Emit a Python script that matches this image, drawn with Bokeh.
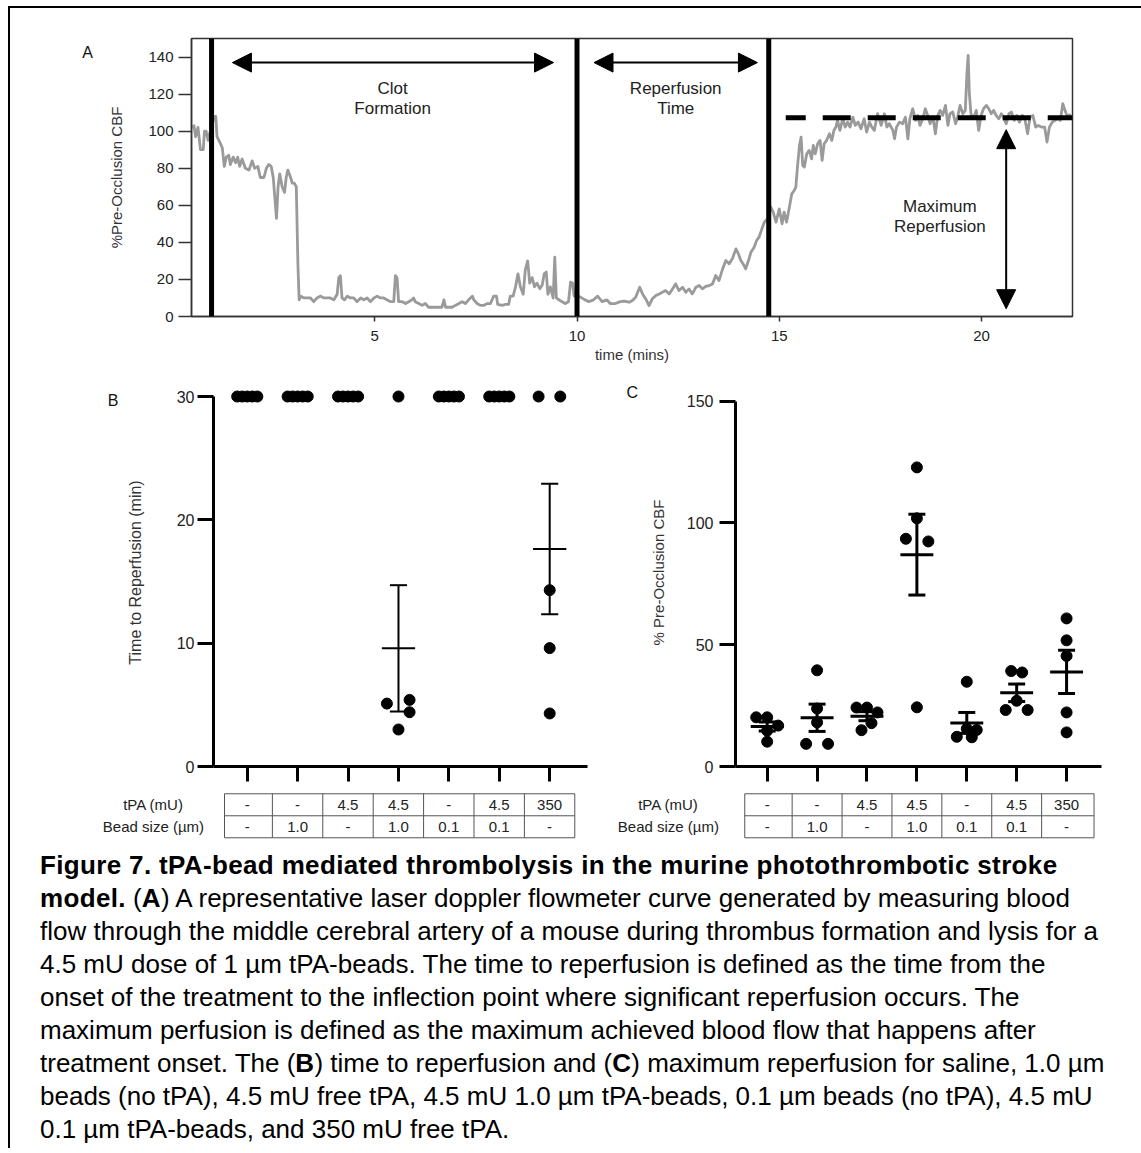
import numpy as np
from bokeh.plotting import figure
from bokeh.models import Range1d, FixedTicker, Span, Arrow, NormalHead, Label, Div
from bokeh.layouts import row, column
from bokeh.embed import file_html
from bokeh.resources import INLINE
from bokeh.core.properties import value

FONT = "Liberation Sans"

# ---------------- Panel A: laser doppler trace ----------------
trace_time = [
    0.47, 0.53, 0.57, 0.63, 0.69, 0.76, 0.79, 0.83, 0.88, 0.92, 0.96, 1.02, 1.07, 1.10, 1.17, 1.23, 1.28, 1.33, 1.39, 1.43,
    1.50, 1.56, 1.61, 1.66, 1.72, 1.80, 1.89, 1.97, 2.03, 2.11, 2.17, 2.26, 2.32, 2.38, 2.44, 2.49, 2.53, 2.57, 2.61, 2.65,
    2.71, 2.77, 2.81, 2.85, 2.92, 2.96, 3.01, 3.06, 3.10, 3.13, 3.16, 3.25, 3.33, 3.41, 3.49, 3.57, 3.66, 3.74, 3.82, 3.90,
    3.99, 4.07, 4.11, 4.15, 4.19, 4.25, 4.32, 4.40, 4.48, 4.56, 4.65, 4.73, 4.81, 4.89, 4.98, 5.06, 5.14, 5.22, 5.30, 5.39,
    5.47, 5.51, 5.55, 5.59, 5.68, 5.76, 5.84, 5.92, 5.96, 6.00, 6.09, 6.17, 6.25, 6.33, 6.42, 6.50, 6.58, 6.66, 6.71, 6.75,
    6.83, 6.91, 6.99, 7.08, 7.16, 7.24, 7.32, 7.41, 7.45, 7.53, 7.61, 7.69, 7.78, 7.86, 7.94, 8.01, 8.04, 8.15, 8.23, 8.31,
    8.35, 8.42, 8.48, 8.54, 8.60, 8.67, 8.72, 8.78, 8.83, 8.89, 8.95, 9.01, 9.08, 9.14, 9.19, 9.24, 9.28, 9.34, 9.41, 9.45,
    9.49, 9.55, 9.63, 9.71, 9.79, 9.84, 9.89, 9.93, 10.04, 10.16, 10.29, 10.41, 10.51, 10.62, 10.74, 10.82, 10.95, 11.07,
    11.16, 11.29, 11.37, 11.45, 11.55, 11.62, 11.70, 11.78, 11.86, 11.95, 12.03, 12.11, 12.19, 12.28, 12.36, 12.44, 12.52, 12.61, 12.69, 12.77,
    12.85, 12.94, 13.02, 13.10, 13.18, 13.27, 13.35, 13.43, 13.51, 13.60, 13.68, 13.76, 13.84, 13.93, 13.99, 14.05, 14.13, 14.17, 14.24, 14.30,
    14.38, 14.44, 14.50, 14.57, 14.63, 14.71, 14.79, 14.85, 14.92, 15.00, 15.07, 15.12, 15.18, 15.25, 15.31, 15.37, 15.41, 15.45, 15.50, 15.54,
    15.58, 15.62, 15.68, 15.74, 15.80, 15.84, 15.89, 15.95, 16.01, 16.06, 16.11, 16.17, 16.24, 16.30, 16.35, 16.40, 16.44, 16.50, 16.57, 16.63,
    16.69, 16.75, 16.82, 16.88, 16.95, 17.02, 17.10, 17.16, 17.23, 17.29, 17.35, 17.43, 17.52, 17.60, 17.66, 17.72, 17.81, 17.85, 17.90, 17.97,
    18.05, 18.12, 18.18, 18.23, 18.30, 18.37, 18.42, 18.48, 18.55, 18.61, 18.67, 18.73, 18.80, 18.86, 18.92, 18.98, 19.04, 19.11, 19.17, 19.22,
    19.29, 19.36, 19.41, 19.47, 19.54, 19.60, 19.64, 19.67, 19.70, 19.74, 19.80, 19.87, 19.93, 19.99, 20.05, 20.12, 20.18, 20.24, 20.30, 20.36,
    20.43, 20.49, 20.54, 20.61, 20.68, 20.74, 20.81, 20.87, 20.94, 21.01, 21.07, 21.14, 21.20, 21.27, 21.34, 21.40, 21.48, 21.56, 21.62, 21.68,
    21.75, 21.82, 21.89, 21.95, 22.01, 22.08, 22.14, 22.19,
]
trace_cbf = [
    102, 103, 97, 102, 90, 90, 100, 100, 95, 99, 100, 108, 108, 97, 94, 91, 81, 86, 87, 82,
    86, 83, 86, 81, 85, 80, 79, 84, 80, 81, 75, 75, 80, 82, 81, 75, 64, 53, 70, 77,
    70, 67, 75, 79, 75, 72, 72, 70, 28, 9, 11, 10, 10, 10, 8, 10, 11, 10, 10, 10,
    9, 12, 21, 22, 10, 9, 11, 10, 10, 8, 10, 9, 10, 8, 10, 11, 10, 10, 9, 8,
    8, 22, 21, 8, 8, 7, 8, 9, 10, 8, 7, 6, 7, 5, 5, 5, 5, 5, 9, 5,
    5, 5, 6, 7, 8, 7, 9, 11, 9, 7, 6, 6, 7, 7, 11, 11, 6.5, 6, 6.5, 6.5,
    11, 11, 16, 23, 16, 12, 25, 30, 18, 21, 16, 18, 15, 17, 23, 24, 12, 16, 10, 32,
    10, 9, 8, 7, 8, 18.5, 18, 11, 11, 9.5, 8, 9, 11, 8, 9, 7, 7, 8,
    8.3, 7.7, 8.6, 10.4, 15.8, 12.2, 9.5, 5.9, 9.5, 11.3, 12.2, 13.1, 14.0, 12.2, 14.9, 17.6, 14.0, 15.8, 13.1, 14.9,
    12.2, 15.8, 16.7, 14.9, 16.2, 16.7, 17.6, 22.1, 19.4, 25.7, 30.2, 28.4, 31.1, 36.5, 33.8, 30.2, 27.5, 25.7, 30.2, 34.7,
    37.4, 41.0, 42.8, 47.3, 50.9, 52.7, 59.0, 56.3, 50.9, 58.1, 50.0, 56.3, 50.9, 59.0, 66.2, 68.0, 69.8, 80.6, 92.3, 96.8,
    81.5, 80.6, 87.8, 89.6, 85.1, 92.3, 87.8, 93.2, 95.0, 84.2, 93.2, 95.0, 98.6, 95.0, 100.4, 102.2, 105.8, 100.4, 106.7, 102.2,
    104.9, 102.2, 107.6, 103.1, 104.9, 101.3, 106.7, 99.5, 104.9, 102.2, 100.4, 109.4, 103.1, 109.4, 102.2, 104.0, 100.4, 95.9, 102.2, 104.9,
    104.0, 107.6, 95.9, 106.7, 112.1, 105.8, 108.5, 103.1, 106.7, 112.1, 108.5, 104.0, 107.6, 98.6, 108.5, 111.2, 108.5, 113.9, 103.1, 109.4,
    110.3, 104.0, 107.6, 113.9, 109.4, 111.2, 131.0, 140.9, 120.2, 109.4, 106.7, 111.2, 100.4, 108.5, 112.1, 113.9, 112.1, 109.4, 111.2, 108.5,
    106.7, 109.4, 107.6, 104.0, 109.4, 110.3, 105.8, 108.5, 104.9, 108.5, 106.7, 98.6, 107.6, 108.5, 102.2, 103.1, 102.2, 102.2, 94.1, 102.2,
    104.9, 105.8, 106.7, 105.8, 114.8, 110.3, 106.7, 109.4,
]
a_xticks = [5, 10, 15, 20]
a_yticks = [0, 20, 40, 60, 80, 100, 120, 140]
event_times = [0.965, 10.0, 14.74]        # occlusion onset, treatment onset, reperfusion point
clot_arrow_span = (1.48, 9.42)
reperf_arrow_span = (10.42, 14.46)
arrow_level = 137
max_reperfusion_level = 107.3
max_line_start = 15.16
max_arrow_time = 20.61
max_arrow_span = (4.2, 100.8)

# ---------------- Panels B and C ----------------
tpa_mU = ["-", "-", "4.5", "4.5", "-", "4.5", "350"]
bead_um = ["-", "1.0", "-", "1.0", "0.1", "0.1", "-"]
row_labels = ["tPA (mU)", "Bead size (µm)"]

time_to_reperfusion = [
    [30, 30, 30, 30, 30],
    [30, 30, 30, 30, 30],
    [30, 30, 30, 30, 30],
    [30, 5.1, 5.4, 4.4, 3.0],
    [30, 30, 30, 30, 30],
    [30, 30, 30, 30, 30],
    [30, 30, 14.3, 9.6, 4.3],
]
max_reperfusion_pct = [
    [20.2, 20.2, 16.8, 14.7, 10.2],
    [39.5, 23.8, 18.1, 9.3, 9.3],
    [24.2, 24.2, 22.2, 17.8, 14.9],
    [122.8, 101.9, 93.5, 92.4, 24.3],
    [34.8, 15.5, 15.0, 12.2, 12.0],
    [39.2, 38.6, 27.0, 23.2, 23.2],
    [60.8, 51.8, 45.4, 22.2, 14.0],
]
# horizontal scatter offsets (layout only)
offsets_b = [[-0.2, -0.1, 0, 0.1, 0.2]] * 3 + [[0, -0.23, 0.22, 0.22, 0]] + \
            [[-0.2, -0.1, 0, 0.1, 0.2]] * 2 + [[-0.22, 0.21, 0, 0, 0]]
offsets_c = [
    [-0.22, 0.0, 0.22, 0.0, 0.0],
    [0.0, 0.0, 0.0, -0.22, 0.22],
    [-0.21, 0.0, 0.21, 0.09, -0.11],
    [0.0, 0.0, -0.22, 0.23, 0.0],
    [0.0, 0.0, 0.2, -0.2, 0.1],
    [-0.11, 0.11, 0.0, -0.22, 0.22],
    [0, 0, 0, 0, 0],
]

caption_lines = [
    "<b>Figure 7. tPA-bead mediated thrombolysis in the murine photothrombotic stroke</b>",
    "<b>model.</b> (<b>A</b>) A representative laser doppler flowmeter curve generated by measuring blood",
    "flow through the middle cerebral artery of a mouse during thrombus formation and lysis for a",
    "4.5 mU dose of 1 µm tPA-beads. The time to reperfusion is defined as the time from the",
    "onset of the treatment to the inflection point where significant reperfusion occurs. The",
    "maximum perfusion is defined as the maximum achieved blood flow that happens after",
    "treatment onset. The (<b>B</b>) time to reperfusion and (<b>C</b>) maximum reperfusion for saline, 1.0 µm",
    "beads (no tPA), 4.5 mU free tPA, 4.5 mU 1.0 µm tPA-beads, 0.1 µm beads (no tPA), 4.5 mU",
    "0.1 µm tPA-beads, and 350 mU free tPA.",
]


def style_axis(ax, font_size, tick_out, lw, color, standoff):
    ax.axis_line_width = lw
    ax.axis_line_color = color
    ax.major_tick_line_width = lw
    ax.major_tick_line_color = color
    ax.major_tick_out = tick_out
    ax.major_tick_in = 0
    ax.minor_tick_line_color = None
    ax.major_label_text_font = FONT
    ax.major_label_text_font_size = font_size
    ax.major_label_text_color = "#222222"
    ax.major_label_standoff = standoff
    ax.axis_label_text_font = FONT
    ax.axis_label_text_font_style = "normal"
    ax.axis_label_text_color = "#333333"


def letter_fig(width, height, border_top, border_bottom, letter, x, y_from_top, size):
    # frame spans canvas rows border_top .. height-border_bottom; y measured from canvas top
    f = figure(width=width, height=height, title=None, x_range=Range1d(0, width),
               y_range=Range1d(height - border_bottom, border_top),
               min_border_left=0, min_border_right=0,
               min_border_top=border_top, min_border_bottom=border_bottom,
               x_axis_type=None, y_axis_type=None, output_backend="svg", toolbar_location=None)
    f.outline_line_color = None
    f.grid.visible = False
    f.text(x=[x], y=[y_from_top], text=[letter], text_font=value(FONT),
           text_font_size=size, text_align="center", text_baseline="middle",
           text_color="#111111")
    return f


# ---------------- Figure A ----------------
A_TOP, A_BOTTOM = 30, 52
pA = figure(width=1033, height=360, x_range=Range1d(0.469, 22.25), y_range=Range1d(0, 150),
            min_border_left=91, min_border_right=61, min_border_top=A_TOP, min_border_bottom=A_BOTTOM,
            output_backend="svg", toolbar_location=None)
pA.grid.visible = False
pA.outline_line_color = "#333333"
pA.outline_line_width = 1.5

pA.line(trace_time, trace_cbf, line_color="#9a9a9a", line_width=2.8, line_join="round")
for t in event_times:
    pA.add_layout(Span(location=t, dimension="height", line_color="black", line_width=5))
pA.line([max_line_start, pA.x_range.end], [max_reperfusion_level] * 2, line_color="black",
        line_width=5, line_dash="28 17", line_dash_offset=8)


def head():
    return NormalHead(size=19, fill_color="black", line_color="black")


pA.add_layout(Arrow(start=head(), end=head(), x_start=clot_arrow_span[0], y_start=arrow_level,
                    x_end=clot_arrow_span[1], y_end=arrow_level, line_width=2))
pA.add_layout(Arrow(start=head(), end=head(), x_start=reperf_arrow_span[0], y_start=arrow_level,
                    x_end=reperf_arrow_span[1], y_end=arrow_level, line_width=2))
pA.add_layout(Arrow(start=head(), end=head(), x_start=max_arrow_time, y_start=max_arrow_span[1],
                    x_end=max_arrow_time, y_end=max_arrow_span[0], line_width=2))

annot = [
    ("Clot", np.mean(clot_arrow_span) - 0.01, 122.9),
    ("Formation", np.mean(clot_arrow_span) - 0.01, 112.5),
    ("Reperfusion", np.mean(reperf_arrow_span), 122.9),
    ("Time", np.mean(reperf_arrow_span), 112.5),
    ("Maximum", 18.97, 59.6),
    ("Reperfusion", 18.97, 48.6),
]
for txt, x, y in annot:
    pA.add_layout(Label(x=x, y=y, text=txt, text_font=FONT, text_font_size="17px",
                        text_align="center", text_baseline="middle", text_color="#222222"))

pA.xaxis.ticker = FixedTicker(ticks=a_xticks)
pA.yaxis.ticker = FixedTicker(ticks=a_yticks)
pA.xaxis.axis_label = "time (mins)"
pA.yaxis.axis_label = "%Pre-Occlusion CBF"
style_axis(pA.xaxis[0], "15px", 5, 1.5, "#333333", 9)
style_axis(pA.yaxis[0], "15px", 13, 1.5, "#333333", 5)
pA.xaxis.axis_label_text_font_size = "15px"
pA.yaxis.axis_label_text_font_size = "15px"
pA.xaxis.axis_label_standoff = 2
pA.yaxis.axis_label_standoff = 20

letterA = letter_fig(90, 360, A_TOP, A_BOTTOM, "A", 77, 44, "16px")


# ---------------- Dot plots ----------------
BC_TOP, BC_BOTTOM = 10, 22


def dot_panel(data, offsets, width, x_range, y_range, borders, yticks, ybounds, ylabel,
              ylabel_size, label_std, tick_std, err_lw, mean_lw):
    p = figure(width=width, height=420, x_range=Range1d(*x_range), y_range=Range1d(*y_range),
               min_border_left=borders[0], min_border_right=borders[1],
               min_border_top=BC_TOP, min_border_bottom=BC_BOTTOM,
               output_backend="svg", toolbar_location=None)
    p.grid.visible = False
    p.outline_line_color = None
    xs, ys = [], []
    for i, (vals, offs) in enumerate(zip(data, offsets)):
        xs += [i + o for o in offs]
        ys += list(vals)
    p.scatter(xs, ys, size=11, color="black", marker="circle")
    for i, vals in enumerate(data):
        v = np.array(vals, dtype=float)
        m = v.mean()
        sem = v.std(ddof=1) / np.sqrt(len(v))
        if sem == 0:
            continue
        p.segment(x0=[i - 0.33], y0=[m], x1=[i + 0.33], y1=[m], line_color="black", line_width=mean_lw)
        p.segment(x0=[i], y0=[m - sem], x1=[i], y1=[m + sem], line_color="black", line_width=err_lw)
        p.segment(x0=[i - 0.17, i - 0.17], y0=[m - sem, m + sem], x1=[i + 0.17, i + 0.17],
                  y1=[m - sem, m + sem], line_color="black", line_width=err_lw)
    p.xaxis.ticker = FixedTicker(ticks=list(range(len(data))))
    p.yaxis.ticker = FixedTicker(ticks=yticks)
    p.yaxis.bounds = ybounds
    style_axis(p.xaxis[0], "1px", 15, 3, "black", 0)
    p.xaxis.major_label_text_color = None
    style_axis(p.yaxis[0], "16px", 16, 3, "black", tick_std)
    p.yaxis.axis_label = ylabel
    p.yaxis.axis_label_text_font_size = ylabel_size
    p.yaxis.axis_label_standoff = label_std
    return p


pB = dot_panel(time_to_reperfusion, offsets_b, 480, (-0.67, 6.75), (0, 31.46), (93, 13),
               [0, 10, 20, 30], (0, 30), "Time to Reperfusion (min)", "16px", 30, 3, 2, 2)
pC = dot_panel(max_reperfusion_pct, offsets_c, 488, (-0.635, 6.70), (0, 159.3), (90, 32),
               [0, 50, 100, 150], (0, 150), "% Pre-Occlusion CBF", "15px", 17, 6, 3, 3)
letterB = letter_fig(110, 420, BC_TOP, BC_BOTTOM, "B", 102.7, 32, "16px")
letterC = letter_fig(45, 420, BC_TOP, BC_BOTTOM, "C", 31.7, 23.7, "16px")


# ---------------- Tables ----------------
def table_fig(width, x_range, left_edge, right_edge, label_x):
    t = figure(width=width, height=55, title=None, x_range=Range1d(*x_range),
               y_range=Range1d(-0.76, 1.74), min_border=0, x_axis_type=None, y_axis_type=None,
               output_backend="svg", toolbar_location=None)
    t.outline_line_color = None
    t.grid.visible = False
    n = len(tpa_mU)
    edges = [left_edge] + [i + 0.5 for i in range(n - 1)] + [right_edge]
    t.segment(x0=edges, y0=[-0.5] * len(edges), x1=edges, y1=[1.5] * len(edges),
              line_color="#555555", line_width=1)
    t.segment(x0=[left_edge] * 3, y0=[1.5, 0.5, -0.5], x1=[right_edge] * 3, y1=[1.5, 0.5, -0.5],
              line_color="#555555", line_width=1)
    t.text(x=list(range(n)), y=[1] * n, text=tpa_mU, text_font=value(FONT), text_font_size="15px",
           text_align="center", text_baseline="middle", text_color="#222222")
    t.text(x=list(range(n)), y=[0] * n, text=bead_um, text_font=value(FONT), text_font_size="15px",
           text_align="center", text_baseline="middle", text_color="#222222")
    t.text(x=[label_x] * 2, y=[1, 0], text=row_labels, text_font=value(FONT), text_font_size="15px",
           text_align="center", text_baseline="middle", text_color="#222222")
    return t


tB = table_fig(590, (-4.696, 7.010), -0.45, 6.5, -1.86)
tC = table_fig(533, (-3.341, 7.341), -0.45, 6.55, -1.98)

caption = Div(
    text='<style>b{letter-spacing:0.35px;}</style>'
         '<div style="font-family:\'Liberation Sans\', Arial, sans-serif; font-size:26px; '
         'line-height:33px; color:#000; white-space:nowrap; padding:6px 0 0 30px;">'
         + "<br>".join(caption_lines) + "</div>",
    width=1123, height=303, margin=0)

top_bar = Div(text="", width=1131, height=2, margin=0, styles={"background-color": "black"})
left_bar = Div(text="", width=2, height=1142, margin=0, styles={"background-color": "black"})

main = column(top_bar, row(letterA, pA), row(letterB, pB, letterC, pC), row(tB, tC), caption)
page = row(left_bar, main, margin=(6, 0, 0, 8))

open("out.html", "w").write(file_html(page, INLINE, title="Figure 7"))
